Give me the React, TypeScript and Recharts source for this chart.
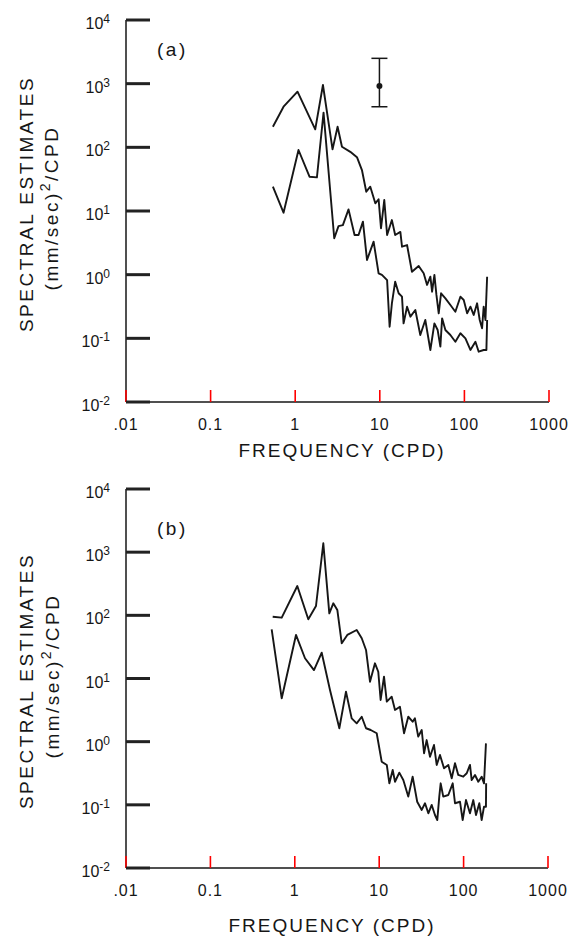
import React from 'react';
import { ComposedChart, Line, XAxis, YAxis, Scatter, ErrorBar } from 'recharts';

const INK = '#161616';
const FONT = "'Liberation Sans', 'DejaVu Sans', Arial, sans-serif";

const xTicks = [0.01, 0.1, 1, 10, 100, 1000];
const xTickLabels = ['.01', '0.1', '1', '10', '100', '1000'];
const yTicks = [0.01, 0.1, 1, 10, 100, 1000, 10000];
const yTickExponents = ['-2', '-1', '0', '1', '2', '3', '4'];

const aUpperFreq = [0.545, 0.728, 1.065, 1.725, 2.128, 2.763, 3.17, 3.57, 4.48, 5.37, 6.15, 6.92, 7.72, 8.85, 9.68, 10.33, 11.3, 12.2, 13.9, 15.2, 17.5, 18.3, 21.0, 24.0, 28.8, 33.0, 36.2, 39.6, 41.5, 44.2, 46.7, 49.7, 53.0, 59.6, 68.3, 78.2, 89.7, 98.2, 107.7, 117.8, 128.8, 141.3, 151.7, 161.8, 169.0, 177.4, 185.6];
const aUpperSpec = [211, 435, 748, 192, 953, 93, 211, 102, 85, 70, 44, 20.1, 24.1, 13.2, 15.3, 5.35, 14.9, 4.2, 7.2, 4.2, 4.7, 2.75, 2.92, 1.11, 1.37, 1.05, 0.69, 0.93, 0.54, 0.99, 0.48, 0.247, 0.51, 0.425, 0.334, 0.262, 0.451, 0.40, 0.247, 0.314, 0.233, 0.355, 0.194, 0.144, 0.314, 0.194, 0.93];
const aLowerFreq = [0.545, 0.728, 1.094, 1.476, 1.806, 2.163, 2.894, 3.25, 3.66, 4.27, 5.03, 5.61, 6.32, 7.06, 8.45, 9.68, 10.6, 12.2, 13.06, 13.9, 15.2, 16.7, 18.3, 19.1, 21.0, 23.0, 26.3, 30.1, 34.5, 39.6, 44.2, 48.3, 52.0, 54.5, 59.6, 68.3, 78.2, 89.7, 102.8, 117.8, 135, 147.6, 169, 182, 185.6];
const aLowerSpec = [24.1, 9.4, 90.8, 34.6, 33.8, 350, 3.73, 5.8, 6.0, 10.6, 4.2, 4.2, 6.8, 1.70, 3.30, 1.05, 0.99, 0.82, 0.152, 0.355, 0.776, 0.51, 0.451, 0.172, 0.314, 0.219, 0.279, 0.113, 0.194, 0.0656, 0.172, 0.135, 0.074, 0.206, 0.135, 0.113, 0.0885, 0.12, 0.1, 0.0656, 0.0885, 0.0617, 0.0656, 0.0656, 0.194];
const aErrFreq = [9.9];
const aErrSpec = [918];
const aErrLowHigh = [[484, 1582]];

const bUpperFreq = [0.547, 0.700, 1.071, 1.445, 1.782, 2.177, 2.564, 2.858, 3.19, 3.60, 4.19, 5.41, 6.21, 6.98, 7.78, 8.91, 9.75, 10.4, 11.4, 12.3, 14.06, 15.4, 17.6, 19.7, 22.1, 24.9, 26.5, 29.0, 31.9, 34.0, 36.5, 40.0, 44.6, 48.0, 52.5, 58.6, 65.9, 72.3, 79.1, 86.5, 99.1, 108.9, 119, 124.7, 136.5, 149.3, 163.7, 174.5, 184];
const bUpperSpec = [95.1, 91.8, 291, 86.5, 140.6, 1381, 107.7, 155, 121.6, 36.1, 48.9, 58.6, 43.3, 28.3, 8.9, 17.4, 12.8, 4.57, 10.7, 4.3, 5.15, 3.18, 3.58, 1.36, 2.48, 2.07, 2.34, 1.2, 1.53, 0.655, 1.06, 0.578, 0.885, 0.428, 0.615, 0.379, 0.428, 0.263, 0.455, 0.297, 0.279, 0.316, 0.428, 0.247, 0.297, 0.232, 0.279, 0.219, 0.94];
const bLowerFreq = [0.532, 0.700, 1.033, 1.321, 1.687, 2.084, 2.612, 3.37, 4.04, 4.72, 5.41, 6.21, 6.98, 7.93, 9.34, 10.7, 12.3, 13.2, 14.45, 15.4, 17.3, 19.3, 22.1, 24.9, 28.2, 31.9, 34.9, 38.2, 41.9, 45.8, 48.8, 51.5, 53.5, 57.4, 65.9, 74.3, 79.1, 90.6, 97.5, 106.7, 119, 130.3, 140.3, 153.5, 163.7, 174.5, 184, 185];
const bLowerSpec = [60.1, 4.86, 48.9, 20.9, 13.6, 25.6, 6.58, 1.63, 6.18, 2.34, 1.95, 2.48, 1.63, 1.53, 1.36, 0.482, 0.428, 0.219, 0.356, 0.232, 0.323, 0.247, 0.135, 0.279, 0.112, 0.083, 0.106, 0.0735, 0.0995, 0.069, 0.0575, 0.135, 0.219, 0.135, 0.143, 0.219, 0.106, 0.112, 0.0575, 0.119, 0.0735, 0.119, 0.069, 0.106, 0.0575, 0.0935, 0.0935, 0.22];

type Pt = { f: number; s: number; e?: number[] };
const zip = (f: number[], s: number[]): Pt[] => f.map((v, i) => ({ f: v, s: s[i] }));

const nearestIndex = (arr: number[], v: number) => {
  let best = 0;
  let bd = Infinity;
  arr.forEach((a, i) => {
    const d = Math.abs(Math.log10(a) - Math.log10(Number(v)));
    if (d < bd) { bd = d; best = i; }
  });
  return best;
};

const X_TICK_MARGIN = 17;
const Y_TICK_MARGIN = 16;

// diagnostic: x ticks red short (12), y ticks dark long (24)
const XTick = (props: any) => {
  const { x, y, payload } = props;
  const i = nearestIndex(xTicks, payload.value);
  const nx = Number(x);
  const ny = Number(y);
  return (
    <g>
      <path d={`M${nx},${ny - X_TICK_MARGIN}L${nx},${ny - X_TICK_MARGIN - 12}`} stroke="red" strokeWidth={1.6} fill="none" />
      <text x={nx} y={ny} dy="0.71em" textAnchor="middle" fontFamily={FONT} fontSize={16} fill={INK} letterSpacing={1}>
        {xTickLabels[i]}
      </text>
    </g>
  );
};

const YTick = (props: any) => {
  const { x, y, payload } = props;
  const i = nearestIndex(yTicks, payload.value);
  const nx = Number(x);
  const ny = Number(y);
  return (
    <g>
      <path d={`M${nx + Y_TICK_MARGIN},${ny}L${nx + Y_TICK_MARGIN + 24},${ny}`} stroke="#222222" strokeWidth={3} fill="none" />
      <text x={nx} y={ny} dy={9} textAnchor="end" fontFamily={FONT} fontSize={16} fill={INK}>
        10<tspan dy={-6} fontSize={12}>{yTickExponents[i]}</tspan>
      </text>
    </g>
  );
};

type PanelProps = {
  upper: Pt[];
  lower: Pt[];
  tag: string;
  margin: { top: number; right: number; bottom: number; left: number };
  tagPos: [number, number];
  xTitlePos: [number, number];
  yTitle1: [number, number];
  yTitle2: [number, number];
  err?: Pt[];
};

function Panel(p: PanelProps) {
  const xTitle = () => (
    <text x={p.xTitlePos[0]} y={p.xTitlePos[1]} textAnchor="middle" fontFamily={FONT} fontSize={19} fill={INK} letterSpacing={2}>
      FREQUENCY (CPD)
    </text>
  );
  const yTitle = () => (
    <g>
      <text x={p.yTitle1[0]} y={p.yTitle1[1]} transform={`rotate(-90, ${p.yTitle1[0]}, ${p.yTitle1[1]})`} textAnchor="middle" fontFamily={FONT} fontSize={19} fill={INK} letterSpacing={2.5}>
        SPECTRAL ESTIMATES
      </text>
      <text x={p.yTitle2[0]} y={p.yTitle2[1]} transform={`rotate(-90, ${p.yTitle2[0]}, ${p.yTitle2[1]})`} textAnchor="middle" fontFamily={FONT} fontSize={19} fill={INK} letterSpacing={2.5}>
        (mm/sec)<tspan dy={-8} fontSize={14}>2</tspan><tspan dy={8}>/CPD</tspan>
      </text>
      <text x={p.tagPos[0]} y={p.tagPos[1]} fontFamily={FONT} fontSize={19} fill={INK} letterSpacing={2.5}>
        {p.tag}
      </text>
    </g>
  );
  return (
    <ComposedChart width={577} height={469} margin={p.margin}>
      <XAxis type="number" dataKey="f" scale="log" domain={[0.01, 1000]} ticks={xTicks} interval={0} height={40} tick={<XTick />} tickSize={0} tickMargin={X_TICK_MARGIN} axisLine={{ stroke: INK, strokeWidth: 1.5 }} tickLine={false} label={xTitle} />
      <YAxis type="number" dataKey="s" scale="log" domain={[0.01, 10000]} ticks={yTicks} interval={0} width={70} tick={<YTick />} tickSize={0} tickMargin={Y_TICK_MARGIN} axisLine={{ stroke: INK, strokeWidth: 1.5 }} tickLine={false} label={yTitle} />
      <Line data={p.upper} dataKey="s" stroke={INK} strokeWidth={1.9} dot={false} strokeLinejoin="round" isAnimationActive={false} />
      <Line data={p.lower} dataKey="s" stroke={INK} strokeWidth={1.9} dot={false} strokeLinejoin="round" isAnimationActive={false} />
      {p.err ? (
        <Scatter data={p.err} dataKey="s" isAnimationActive={false} shape={(sp: any) => <circle cx={sp.cx} cy={sp.cy} r={3} fill={INK} />}>
          <ErrorBar dataKey="e" direction="y" width={8} stroke={INK} strokeWidth={1.5} isAnimationActive={false} />
        </Scatter>
      ) : null}
    </ComposedChart>
  );
}

export default function App() {
  const aErr: Pt[] = aErrFreq.map((f, i) => ({ f, s: aErrSpec[i], e: aErrLowHigh[i] }));
  return (
    <div style={{ position: 'absolute', left: 0, top: 0, width: 577, height: 938, background: '#fff' }}>
      <div style={{ width: 577, height: 469 }}>
        <Panel upper={zip(aUpperFreq, aUpperSpec)} lower={zip(aLowerFreq, aLowerSpec)} tag="(a)" margin={{ top: 20, right: 28, bottom: 27, left: 56 }} tagPos={[157, 56]} xTitlePos={[342, 457]} yTitle1={[33, 204]} yTitle2={[58, 208]} err={aErr} />
      </div>
      <div style={{ width: 577, height: 469 }}>
        <Panel upper={zip(bUpperFreq, bUpperSpec)} lower={zip(bLowerFreq, bLowerSpec)} tag="(b)" margin={{ top: 20, right: 29, bottom: 30, left: 56 }} tagPos={[157, 66]} xTitlePos={[332, 463]} yTitle1={[33, 212]} yTitle2={[59, 207]} />
      </div>
    </div>
  );
}
